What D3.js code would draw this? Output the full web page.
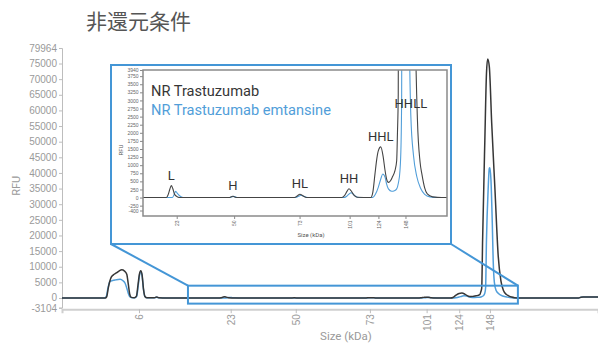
<!DOCTYPE html>
<html>
<head>
<meta charset="utf-8">
<script src="https://cdn.jsdelivr.net/npm/d3@7"></script>
<style>
  html, body { margin: 0; padding: 0; background: #fff; }
  svg { display: block; font-family: Roboto, "Noto Sans", sans-serif; }
</style>
</head>
<body>
<svg id="chart" width="598" height="343"></svg>
<script>
// Size ladder: migration time of each marker and its size label (kDa)
const ladderTimes = [5.17, 11.33, 15.70, 20.68, 24.49, 26.68, 28.74];
const ladderSizes = ["6", "23", "50", "73", "101", "124", "148"];

// Tick values for the full trace and the zoomed trace
const rfuTicks = [-3104, 0, 5000, 10000, 15000, 20000, 25000, 30000, 35000, 40000,
  45000, 50000, 55000, 60000, 65000, 70000, 75000, 79964];
const insetRfuTicks = [-400, -250, 0, 250, 500, 750, 1000, 1250, 1500, 1750, 2000,
  2250, 2500, 2750, 3000, 3250, 3500, 3750, 3940];

const seriesNames = ["NR Trastuzumab", "NR Trastuzumab emtansine"];

// Electropherograms: [migration time, RFU]
const trastuzumab = [
  [0, 0], [2.9, 0], [3.0, 400], [3.12, 3500], [3.3, 6600], [3.45, 7400], [3.65, 8000],
  [3.85, 8700], [4.01, 9000], [4.2, 8600], [4.35, 7600], [4.45, 4500], [4.55, 1200],
  [4.65, 200], [4.85, 60], [5.0, 600], [5.1, 4000], [5.2, 7600], [5.29, 8700], [5.38, 7400],
  [5.47, 3000], [5.57, 500], [5.7, 80], [6.2, 60], [6.36, 320], [6.5, 60], [7.0, 0],
  [10.55, 0], [10.68, 90], [10.8, 250], [10.92, 370], [11.03, 280], [11.18, 90], [11.4, 20], [11.6, 0],
  [15.3, 0], [15.6, 40], [15.9, 0],
  [20.3, 0], [20.5, 50], [20.71, 100], [20.95, 50], [21.2, 0],
  [23.9, 0], [24.1, 60], [24.3, 200], [24.44, 270], [24.6, 210], [24.8, 80], [25.05, 10],
  [26.1, 0], [26.25, 150], [26.42, 730], [26.56, 1200], [26.67, 1440], [26.86, 1565],
  [27.05, 1240], [27.18, 850], [27.3, 580], [27.44, 470], [27.6, 520], [27.75, 640],
  [27.94, 830], [28.07, 1135], [28.13, 2000], [28.19, 3180], [28.25, 18600], [28.4, 50500],
  [28.51, 71900], [28.59, 76450], [28.7, 74000], [28.86, 56000], [29.08, 34600],
  [29.3, 13300], [29.48, 5500], [29.65, 2400], [29.85, 1100], [30.0, 700], [30.2, 300],
  [30.4, 110], [30.8, 20], [31.5, 0], [34.7, 0], [34.85, 250], [35.0, 300], [36, 300]
];
const emtansine = [
  [0, 0], [2.88, 0], [2.98, 500], [3.08, 3000], [3.22, 5300], [3.4, 5600], [3.6, 5800],
  [3.9, 6000], [4.1, 5500], [4.23, 4800], [4.35, 3200], [4.45, 1500], [4.55, 400],
  [4.7, 80], [4.9, 60], [5.02, 600], [5.12, 4000], [5.21, 7400], [5.29, 8400], [5.38, 7000],
  [5.47, 2800], [5.57, 450], [5.7, 80], [6.2, 50], [6.36, 250], [6.5, 50], [7.0, 0],
  [11.0, 0], [11.12, 80], [11.25, 190], [11.4, 120], [11.6, 40], [11.85, 0],
  [15.3, 0], [15.65, 35], [16.0, 0],
  [20.4, 0], [20.6, 40], [20.8, 70], [21.0, 40], [21.3, 0],
  [24.1, 0], [24.3, 50], [24.45, 110], [24.6, 150], [24.75, 110], [24.95, 40], [25.2, 0],
  [26.25, 0], [26.45, 100], [26.67, 316], [26.86, 573], [27.01, 727], [27.19, 623],
  [27.3, 420], [27.44, 267], [27.69, 193], [27.9, 210], [28.07, 267], [28.2, 450],
  [28.32, 830], [28.4, 1600], [28.45, 3190], [28.51, 18600], [28.62, 34600], [28.70, 41500],
  [28.74, 41700], [28.81, 37800], [28.9, 24000], [28.96, 12000], [29.04, 5000],
  [29.15, 2500], [29.35, 1300], [29.6, 650], [29.9, 280], [30.2, 100], [30.6, 20],
  [31.2, 0], [34.7, 0], [34.85, 230], [35.0, 280], [36, 280]
];

// Fragment peaks annotated in the zoomed view
const peakNames = ["L", "H", "HL", "HH", "HHL", "HHLL"];
const peakTimes = [10.92, 15.6, 20.71, 24.44, 26.86, 29.15];

// Zoomed window (time, RFU) marked on the full trace
const zoomTimes = [8.46, 30.62];
const zoomRfu = [-1800, 3940];
const insetTimes = [8.765, 31.9];
const insetRfu = [-400, 3940];

const DARK = "#363636";
const BLUE = "#519ed9";
const FRAME_BLUE = "#4496d6";
const AXIS_TEXT = "#9a9a9a";

const svg = d3.select("#chart");

// ---------- full trace ----------
const x = d3.scaleLinear().domain([0, 36]).range([62, 598]);
const y = d3.scaleLinear().domain([-3104, 79964]).range([307.7, 48]);

const yAxis = svg.append("g")
  .attr("transform", `translate(${x(0)},0)`)
  .call(d3.axisLeft(y).tickValues(rfuTicks).tickSize(3).tickPadding(2).tickFormat(d => String(d)));
yAxis.select(".domain").attr("stroke", "#bdbdbd");
yAxis.selectAll(".tick line").attr("stroke", "#bdbdbd");
yAxis.selectAll("text").attr("fill", AXIS_TEXT).style("font-size", "10px");
// keep the two bottom labels apart
yAxis.selectAll(".tick").filter(d => d === -3104).select("text").attr("dy", "0.42em");
yAxis.selectAll(".tick").filter(d => d === 0).select("text").attr("dy", "0.28em");

const xAxisY = y(-3104) + 1.5;
const xAxis = svg.append("g")
  .attr("transform", `translate(0,${xAxisY})`)
  .call(d3.axisBottom(x).tickValues(ladderTimes).tickSize(4).tickFormat((d, i) => ladderSizes[i]));
xAxis.select(".domain").attr("stroke", "#cfcfcf").attr("stroke-width", 2);
xAxis.selectAll(".tick line").attr("stroke", "#bdbdbd");
xAxis.selectAll("text")
  .attr("fill", AXIS_TEXT).style("font-size", "10px")
  .attr("transform", "rotate(-90)")
  .attr("x", -5).attr("y", 0).attr("dy", "0.35em")
  .style("text-anchor", "end");

svg.append("text")
  .attr("transform", `translate(20,${(y.range()[0] + y.range()[1]) / 2 + 8}) rotate(-90)`)
  .attr("text-anchor", "middle")
  .attr("fill", AXIS_TEXT).style("font-size", "11px")
  .text("RFU");

svg.append("text")
  .attr("x", 346).attr("y", 340)
  .attr("text-anchor", "middle")
  .attr("fill", AXIS_TEXT).style("font-size", "11.5px")
  .text("Size (kDa)");

const line = d3.line().x(d => x(d[0])).y(d => y(d[1])).curve(d3.curveMonotoneX);
svg.append("path").datum(emtansine).attr("d", line)
  .attr("fill", "none").attr("stroke", BLUE).attr("stroke-width", 1.5);
svg.append("path").datum(trastuzumab).attr("d", line)
  .attr("fill", "none").attr("stroke", DARK).attr("stroke-width", 1.5);

// Zoom window on the full trace
const zx0 = x(zoomTimes[0]), zx1 = x(zoomTimes[1]);
const zy0 = y(zoomRfu[1]), zy1 = y(zoomRfu[0]);
svg.append("rect")
  .attr("x", zx0).attr("y", zy0).attr("width", zx1 - zx0).attr("height", zy1 - zy0)
  .attr("fill", "none").attr("stroke", FRAME_BLUE).attr("stroke-width", 2);

// ---------- inset ----------
const box = { left: 111, top: 65, right: 451, bottom: 244 };
const frame = { left: 143, top: 70, right: 447, bottom: 216 };

svg.append("line")
  .attr("x1", box.left).attr("y1", box.bottom).attr("x2", zx0).attr("y2", zy0)
  .attr("stroke", FRAME_BLUE).attr("stroke-width", 2);
svg.append("line")
  .attr("x1", box.right).attr("y1", box.bottom).attr("x2", zx1).attr("y2", zy0)
  .attr("stroke", FRAME_BLUE).attr("stroke-width", 2);

svg.append("rect")
  .attr("x", box.left).attr("y", box.top)
  .attr("width", box.right - box.left).attr("height", box.bottom - box.top)
  .attr("fill", "#fff").attr("stroke", FRAME_BLUE).attr("stroke-width", 2);

const xi = d3.scaleLinear().domain(insetTimes).range([frame.left, frame.right]);
const yi = d3.scaleLinear().domain(insetRfu).range([210.5, frame.top]);

svg.append("defs").append("clipPath").attr("id", "inset-clip")
  .append("rect")
  .attr("x", frame.left).attr("y", frame.top)
  .attr("width", frame.right - frame.left).attr("height", frame.bottom - frame.top);

const iyAxis = svg.append("g")
  .attr("transform", `translate(${frame.left},0)`)
  .call(d3.axisLeft(yi).tickValues(insetRfuTicks).tickSize(3).tickPadding(1.5).tickFormat(d => String(d)));
iyAxis.select(".domain").remove();
iyAxis.selectAll(".tick line").attr("stroke", "#888");
iyAxis.selectAll("text").attr("fill", "#666").style("font-size", "5px");

const ixAxis = svg.append("g")
  .attr("transform", `translate(0,${frame.bottom})`)
  .call(d3.axisBottom(xi).tickValues(ladderTimes.slice(1)).tickSize(3)
    .tickFormat((d, i) => ladderSizes[i + 1]));
ixAxis.select(".domain").remove();
ixAxis.selectAll(".tick line").attr("stroke", "#888");
ixAxis.selectAll("text")
  .attr("fill", "#666").style("font-size", "5px")
  .attr("transform", "rotate(-90)")
  .attr("x", -4.5).attr("y", 0).attr("dy", "0.35em")
  .style("text-anchor", "end");

svg.append("text")
  .attr("transform", `translate(123,150) rotate(-90)`)
  .attr("text-anchor", "middle").attr("fill", "#555").style("font-size", "6px")
  .text("RFU");
svg.append("text")
  .attr("x", 311).attr("y", 237)
  .attr("text-anchor", "middle").attr("fill", "#555").style("font-size", "6px")
  .text("Size (kDa)");

const iline = d3.line().x(d => xi(d[0])).y(d => yi(d[1])).curve(d3.curveMonotoneX);
const insetLines = svg.append("g").attr("clip-path", "url(#inset-clip)");
insetLines.append("path").datum(emtansine).attr("d", iline)
  .attr("fill", "none").attr("stroke", BLUE).attr("stroke-width", 1.1);
insetLines.append("path").datum(trastuzumab).attr("d", iline)
  .attr("fill", "none").attr("stroke", "#444").attr("stroke-width", 1.1);

svg.append("rect")
  .attr("x", frame.left).attr("y", frame.top)
  .attr("width", frame.right - frame.left).attr("height", frame.bottom - frame.top)
  .attr("fill", "none").attr("stroke", "#8a8a8a").attr("stroke-width", 1.5);

// Peak annotations, set just above the trastuzumab peak height
peakNames.forEach((name, i) => {
  const t = peakTimes[i];
  const top = d3.max(trastuzumab.filter(d => Math.abs(d[0] - t) <= 0.3), d => d[1]) || 0;
  svg.append("text")
    .attr("x", xi(t)).attr("y", Math.max(yi(top) - 6, frame.top + 38))
    .attr("text-anchor", "middle").attr("fill", "#333").style("font-size", "13px")
    .text(name);
});

// Legend
[DARK, BLUE].forEach((c, i) => {
  svg.append("text")
    .attr("x", 151).attr("y", 96 + i * 18.5)
    .attr("fill", c).style("font-size", "14.6px")
    .text(seriesNames[i]);
});

// Title
svg.append("text")
  .attr("x", 86).attr("y", 29)
  .attr("fill", "#555")
  .style("font-family", "'Noto Sans CJK JP', 'Noto Sans CJK SC', sans-serif")
  .style("font-size", "21px")
  .text("非還元条件");
</script>
</body>
</html>
